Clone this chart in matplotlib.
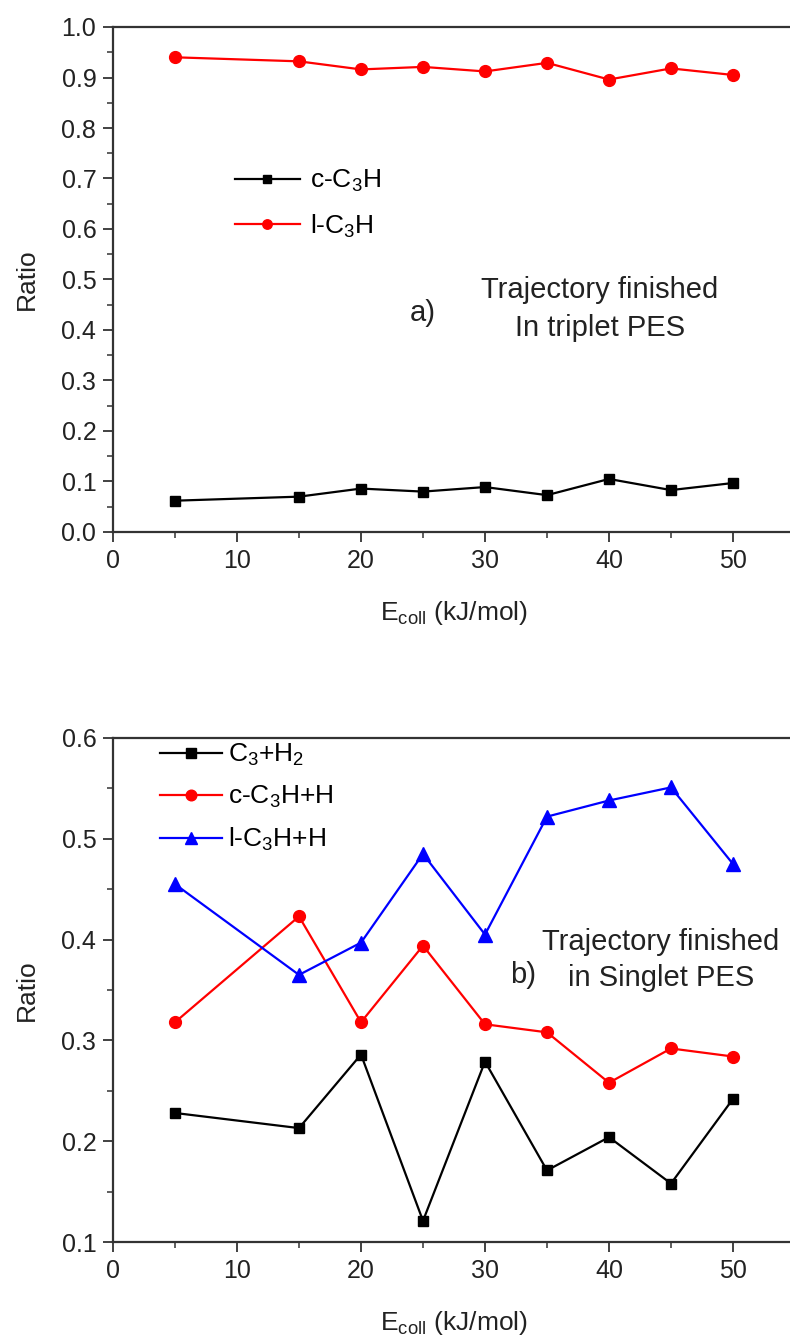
import matplotlib
matplotlib.use("Agg")
import matplotlib.pyplot as plt
from matplotlib.ticker import MultipleLocator

plt.rcParams['font.family'] = ['Liberation Sans', 'DejaVu Sans']
plt.rcParams['mathtext.default'] = 'regular'

# collision energies (kJ/mol)
e_coll = [5, 15, 20, 25, 30, 35, 40, 45, 50]

# a) triplet PES
c_c3h = [0.062, 0.070, 0.086, 0.080, 0.089, 0.073, 0.105, 0.083, 0.097]
l_c3h = [0.940, 0.932, 0.916, 0.921, 0.912, 0.929, 0.896, 0.918, 0.905]

# b) singlet PES
c3_h2 = [0.228, 0.213, 0.286, 0.121, 0.279, 0.171, 0.204, 0.158, 0.242]
c_c3h_h = [0.318, 0.423, 0.318, 0.394, 0.316, 0.308, 0.258, 0.292, 0.284]
l_c3h_h = [0.455, 0.365, 0.397, 0.485, 0.405, 0.522, 0.538, 0.551, 0.475]

TICK_FS = 18
LAB_FS = 19
LEG_FS = 19
NOTE_FS = 21
INK = '#222222'

W, H = 790, 1343
fig = plt.figure(figsize=(W / 100, H / 100), dpi=100)

def px_axes(left, top, right, bottom):
    return fig.add_axes([left / W, 1 - bottom / H, (right - left) / W, (bottom - top) / H])

def style(ax):
    for s in ax.spines.values():
        s.set_linewidth(1.6)
        s.set_color('#333333')
    ax.tick_params(which='both', direction='out', labelsize=TICK_FS, color='#333333',
                   labelcolor=INK)
    ax.tick_params(which='major', length=7, width=1.3, pad=5)
    ax.tick_params(which='minor', length=4, width=1.1)
    ax.set_xlim(0, 55)
    ax.xaxis.set_minor_locator(MultipleLocator(5))
    ax.set_xticks([0, 10, 20, 30, 40, 50])
    ax.set_xlabel('E$_{coll}$ (kJ/mol)', fontsize=LAB_FS, labelpad=19, color=INK)
    ax.set_ylabel('Ratio', fontsize=LAB_FS, labelpad=16, color=INK)

# ---- panel a ----
ax1 = px_axes(113, 27, 795, 532)
ax1.plot(e_coll, c_c3h, color='black', marker='s', ms=7.5, lw=1.6, label='c-C$_3$H')
ax1.plot(e_coll, l_c3h, color='red', marker='o', ms=8.5, lw=1.6, label='l-C$_3$H')
ax1.set_ylim(0, 1.0)
ax1.yaxis.set_major_locator(MultipleLocator(0.1))
ax1.yaxis.set_minor_locator(MultipleLocator(0.05))
style(ax1)
ax1.legend(loc='upper left', bbox_to_anchor=(122 / 682, (532 - 168) / 505), frameon=False,
           fontsize=LEG_FS, handlelength=2.46, handletextpad=0.38, labelspacing=0.7,
           borderpad=0, borderaxespad=0, markerscale=0.8)
ax1.text((423 - 113) / 682, (532 - 313) / 505, 'a)', transform=ax1.transAxes,
         fontsize=NOTE_FS, va='center', ha='center', color=INK)
ax1.text((600 - 113) / 682, (532 - 309) / 505, 'Trajectory finished\nIn triplet PES',
         transform=ax1.transAxes, fontsize=NOTE_FS, va='center', ha='center',
         linespacing=1.45, color=INK)

# ---- panel b ----
ax2 = px_axes(113, 738, 795, 1242)
ax2.plot(e_coll, c3_h2, color='black', marker='s', ms=7.5, lw=1.6, label='C$_3$+H$_2$')
ax2.plot(e_coll, c_c3h_h, color='red', marker='o', ms=8.5, lw=1.6, label='c-C$_3$H+H')
ax2.plot(e_coll, l_c3h_h, color='blue', marker='^', ms=10, lw=1.6, label='l-C$_3$H+H')
ax2.set_ylim(0.1, 0.6)
ax2.yaxis.set_major_locator(MultipleLocator(0.1))
ax2.yaxis.set_minor_locator(MultipleLocator(0.05))
style(ax2)
ax2.legend(loc='upper left', bbox_to_anchor=(47 / 682, (1242 - 742) / 504), frameon=False,
           fontsize=LEG_FS, handlelength=2.35, handletextpad=0.23, labelspacing=0.6,
           borderpad=0, borderaxespad=0, markerscale=0.9)
ax2.text((523 - 113) / 682, (1242 - 975) / 504, 'b)', transform=ax2.transAxes,
         fontsize=NOTE_FS, va='center', ha='center', color=INK)
ax2.text((661 - 113) / 682, (1242 - 960) / 504, 'Trajectory finished\nin Singlet PES',
         transform=ax2.transAxes, fontsize=NOTE_FS, va='center', ha='center',
         linespacing=1.35, color=INK)

fig.savefig('out.png', dpi=100)
